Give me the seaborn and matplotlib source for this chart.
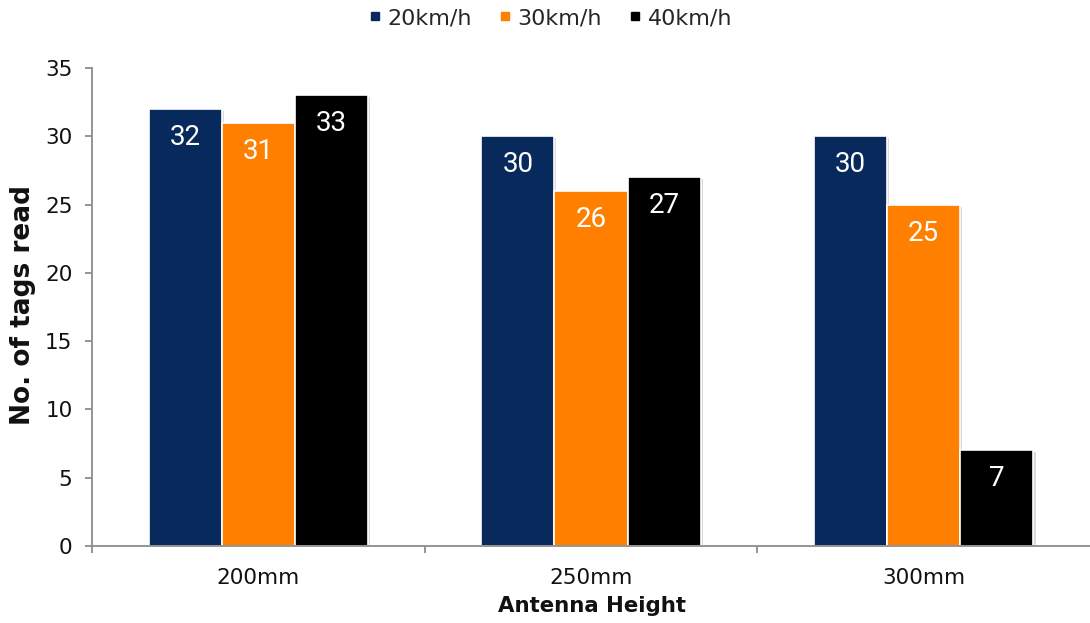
import matplotlib
matplotlib.use("Agg")
import matplotlib.pyplot as plt
from matplotlib.lines import Line2D
import matplotlib.patheffects as pe
import seaborn as sns
import pandas as pd

# Tag read counts per antenna height and vehicle speed
heights = ["200mm", "250mm", "300mm"]
speeds = ["20km/h", "30km/h", "40km/h"]
reads_20 = [32, 30, 30]
reads_30 = [31, 26, 25]
reads_40 = [33, 27, 7]
colors = ["#08295C", "#FF7F00", "#000000"]

df = pd.DataFrame({
    "height": heights * 3,
    "speed": [s for s in speeds for _ in heights],
    "reads": reads_20 + reads_30 + reads_40,
})

sns.set_theme(style="white")
plt.rcParams["font.family"] = ["DejaVu Sans"]

fig = plt.figure(figsize=(10.9, 6.23), dpi=100)
ax = fig.add_axes([92 / 1090, 1 - 546 / 623, 998 / 1090, (546 - 68) / 623])

sns.barplot(data=df, x="height", y="reads", hue="speed", order=heights,
            hue_order=speeds, palette=colors, width=0.66, saturation=1,
            edgecolor="white", linewidth=1.2, legend=False, ax=ax)

shadow = [pe.SimplePatchShadow(offset=(1.5, -1.5), shadow_rgbFace="#999999", alpha=0.35),
          pe.Normal()]
for cont in ax.containers:
    for bar in cont:
        bar.set_path_effects(shadow)
        h = bar.get_height()
        ax.annotate(f"{h:.0f}", (bar.get_x() + bar.get_width() / 2, h),
                    xytext=(0, -20.5), textcoords="offset points",
                    ha="center", va="center", color="white",
                    fontsize=20, family="Roboto")

ax.set_xlim(-0.5, 2.5)
ax.set_ylim(0, 35)
ax.set_yticks(range(0, 36, 5))
ax.set_xlabel("")
ax.set_ylabel("")

for side in ["top", "right"]:
    ax.spines[side].set_visible(False)
for side in ["left", "bottom"]:
    ax.spines[side].set_color("#8C8C8C")
    ax.spines[side].set_linewidth(1.3)

ax.set_xticks([-0.5, 0.5, 1.5], minor=True)
ax.tick_params(axis="x", which="major", length=0, pad=16, labelsize=15.5, labelcolor="#111111")
ax.tick_params(axis="x", which="minor", direction="out", length=5, width=1.3,
               color="#8C8C8C", bottom=True)
ax.tick_params(axis="y", which="major", direction="out", length=5, width=1.3,
               color="#8C8C8C", left=True, pad=9, labelsize=15.5, labelcolor="#111111")

fig.text(23 / 1090, 1 - 305 / 623, "No. of tags read", rotation=90,
         ha="center", va="center", fontsize=19, fontweight="bold", color="#111111")
fig.text(592 / 1090, 1 - 606 / 623, "Antenna Height",
         ha="center", va="center", fontsize=15.3, fontweight="bold", color="#111111")

handles = [Line2D([], [], marker="s", linestyle="none", markersize=5.2,
                  markerfacecolor=c, markeredgecolor=c) for c in colors]
fig.legend(handles, speeds, loc="center", bbox_to_anchor=(551 / 1090, 1 - 18 / 623),
           ncol=3, frameon=False, fontsize=16, handlelength=0.5,
           handletextpad=0.3, columnspacing=1.25)

fig.savefig("out.png", dpi=100)
